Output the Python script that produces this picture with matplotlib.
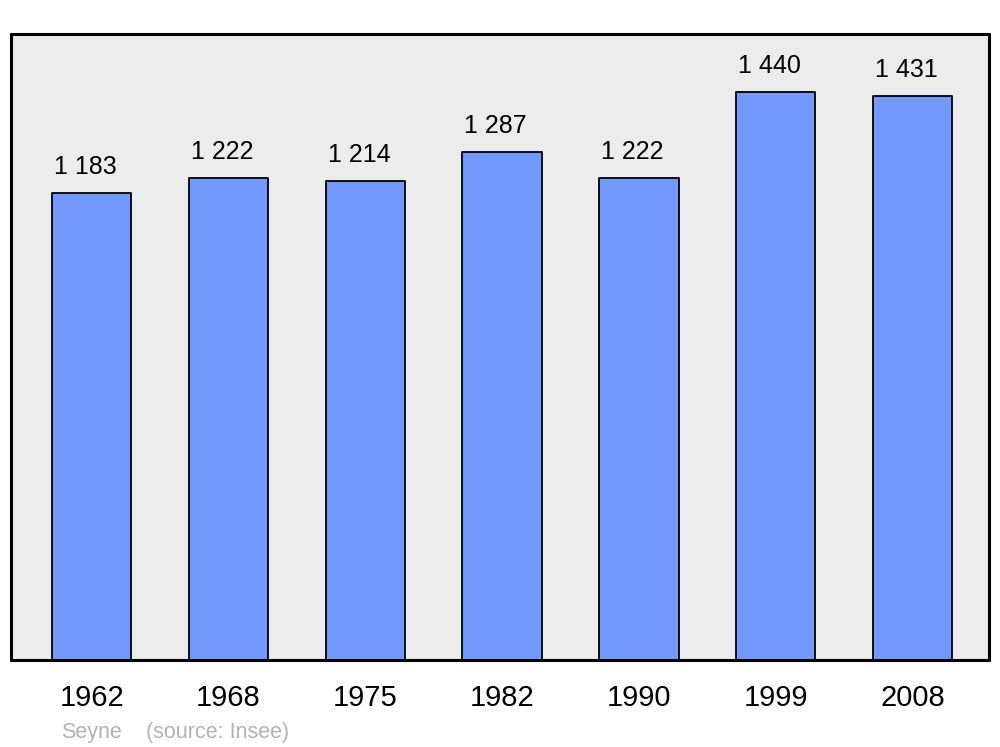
import matplotlib
matplotlib.use("Agg")
import matplotlib.pyplot as plt

years = ["1962", "1968", "1975", "1982", "1990", "1999", "2008"]
population = [1183, 1222, 1214, 1287, 1222, 1440, 1431]
value_labels = ["1 183", "1 222", "1 214", "1 287", "1 222", "1 440", "1 431"]
commune = "Seyne"
source = "(source: Insee)"

plt.rcParams['font.family'] = ['Liberation Sans', 'DejaVu Sans']

fig = plt.figure(figsize=(10, 7.47), dpi=100)
ax = fig.add_axes([0.011, 0.1165, 0.978, 0.838])
ax.set_facecolor('#ececec')

x = list(range(len(years)))
bars = ax.bar(x, population, width=0.58, color='#7399ff', edgecolor='black',
              linewidth=1.3, zorder=2)
for b in bars:
    b.set_joinstyle('round')

ax.set_xlim(-0.59, 6.56)
ax.set_ylim(0, 1587)
ax.set_yticks([])
ax.set_xticks(x)
ax.set_xticklabels(years, fontsize=21)
ax.tick_params(axis='x', length=0, pad=17)
for s in ax.spines.values():
    s.set_linewidth(2.2)
    s.set_capstyle('round')
    s.set_joinstyle('round')

for xi, v, lab in zip(x, population, value_labels):
    ax.annotate(lab, (xi, v), xytext=(-4.5, 10), textcoords='offset points',
                ha='center', va='bottom', fontsize=18)

fig.text(0.061, 0.012, commune, color='#b3b3b3', fontsize=15.5, ha='left', va='baseline')
fig.text(0.146, 0.012, source, color='#b3b3b3', fontsize=15.5, ha='left', va='baseline')

fig.savefig('out.png', dpi=100, facecolor='white')
